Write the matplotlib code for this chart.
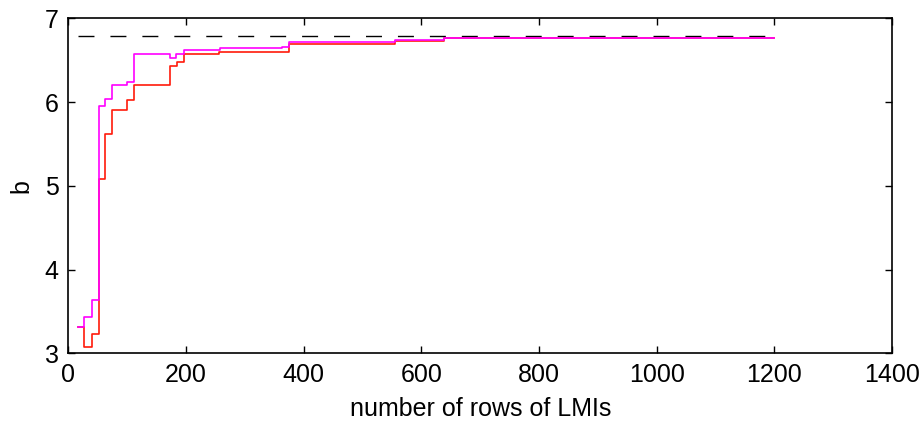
import matplotlib
matplotlib.use("Agg")
import matplotlib.pyplot as plt

plt.rcParams['font.family'] = ['Liberation Sans', 'DejaVu Sans']

# step points (x = number of rows, y = b), drawn as 'post' steps
rows_red = [17, 27, 40, 52, 63, 75, 100, 111, 172, 184, 196, 256, 375, 555, 639, 1200]
b_red = [3.31, 3.07, 3.23, 5.08, 5.62, 5.90, 6.02, 6.20, 6.43, 6.48, 6.57, 6.60, 6.69, 6.73, 6.76, 6.76]

rows_mag = [17, 27, 40, 52, 63, 75, 100, 111, 173, 183, 196, 258, 363, 375, 555, 639, 1200]
b_mag = [3.31, 3.43, 3.64, 5.95, 6.04, 6.20, 6.24, 6.57, 6.53, 6.57, 6.62, 6.64, 6.66, 6.72, 6.74, 6.76, 6.76]

b_opt = 6.79
opt_range = [17, 1200]

fig = plt.figure(figsize=(9.23, 4.25), dpi=100)
ax = fig.add_axes([0.074, 0.1687, 0.8926, 0.7883])

ax.plot(opt_range, [b_opt, b_opt], color='black', lw=1, dashes=(11.5, 11.5))
ax.step(rows_red, b_red, where='post', color='#ff1a0a', lw=1.2)
ax.step(rows_mag, b_mag, where='post', color='#ff00ff', lw=1.2)

ax.set_xlim(0, 1400)
ax.set_ylim(3, 7)
ax.set_xticks(range(0, 1401, 200))
ax.set_yticks([3, 4, 5, 6, 7])
ax.tick_params(direction='in', length=5, width=1, top=True, right=True,
               labelsize=18, pad=7)
for s in ax.spines.values():
    s.set_linewidth(1.2)

ax.set_xlabel('number of rows of LMIs', fontsize=18, labelpad=7)
ax.set_ylabel('b', fontsize=18, labelpad=8)

fig.savefig('out.png', dpi=100)
